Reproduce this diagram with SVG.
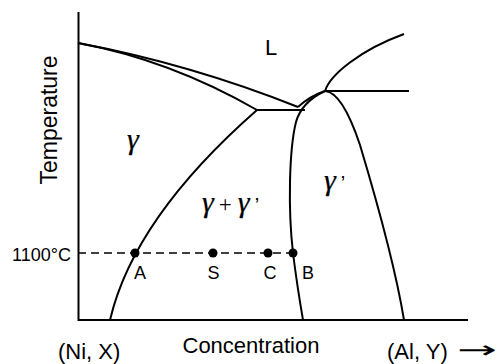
<svg xmlns="http://www.w3.org/2000/svg" width="500" height="364" viewBox="0 0 500 364">
<style>
.ln{fill:none;stroke:#000;stroke-width:2;stroke-linecap:butt;stroke-linejoin:round}
.ax{fill:none;stroke:#000;stroke-width:2}
.dash{fill:none;stroke:#000;stroke-width:1.3;stroke-dasharray:8 5}
.sans{font-family:"Liberation Sans",Arial,sans-serif;fill:#000}
.g{font-family:"Liberation Serif","Times New Roman",serif;font-style:italic;fill:#000;stroke:#000;stroke-width:0.25}
.pl{font-family:"Liberation Serif","Times New Roman",serif;fill:#000}
</style>
<rect width="500" height="364" fill="#fff"/>
<g id="axes">
<path class="ax" d="M78.5,12 V321 M78,320 H468"/>
</g>
<g id="connectors">
<path class="ln" d="M78,43 Q190,64 298,107"/>
<path class="ln" d="M78,43 Q170,60 257,110"/>
<path class="ln" d="M257,110 C200,160 130,235 110,320"/>
<path class="ln" d="M257,110 H305"/>
<path class="ln" d="M298,107 Q310,96 325,91"/>
<path class="ln" d="M325,91 C310,98 300,108 296,122 C289,150 288,210 293,253 Q297,285 303,320"/>
<path class="ln" d="M325,91 C330,75 360,50 404,34"/>
<path class="ln" d="M325,91 H409"/>
<path class="ln" d="M325,91 C338,92 350,115 360,145 C375,195 395,265 404,320"/>
<path class="dash" d="M78,253 H293"/>
</g>
<g id="points">
<circle id="A" cx="135" cy="253" r="4.5"/>
<circle id="S" cx="213" cy="253" r="4.5"/>
<circle id="C" cx="268" cy="253" r="4.5"/>
<circle id="B" cx="293" cy="253" r="4.5"/>
</g>
<g id="labels">
<text class="sans" x="265" y="55" font-size="22">L</text>
<text class="g" x="127" y="149" font-size="30">γ</text>
<text x="202" y="212" font-size="30"><tspan class="g">γ</tspan><tspan class="pl" font-size="23" dx="5">+</tspan><tspan class="g" dx="6">γ</tspan><tspan class="sans" font-size="20" dx="5">’</tspan></text>
<text x="324" y="190" font-size="30"><tspan class="g">γ</tspan><tspan class="sans" font-size="20" dx="5">’</tspan></text>
<text class="sans" x="71" y="261" font-size="18" text-anchor="end">1100°C</text>
<text class="sans" x="140" y="279" font-size="18" text-anchor="middle">A</text>
<text class="sans" x="213.5" y="279" font-size="18" text-anchor="middle">S</text>
<text class="sans" x="270" y="279" font-size="18" text-anchor="middle">C</text>
<text class="sans" x="302" y="279" font-size="18">B</text>
<text class="sans" x="57" y="120" font-size="23" text-anchor="middle" transform="rotate(-90 57 120)">Temperature</text>
<text class="sans" x="251" y="353" font-size="22" text-anchor="middle">Concentration</text>
<text class="sans" x="58" y="359" font-size="22">(Ni, X)</text>
<text class="sans" x="387" y="359" font-size="22">(Al, Y)</text>
<text x="457" y="358" font-family="DejaVu Sans, sans-serif" font-size="24" textLength="40" lengthAdjust="spacingAndGlyphs">→</text>
</g>
</svg>
